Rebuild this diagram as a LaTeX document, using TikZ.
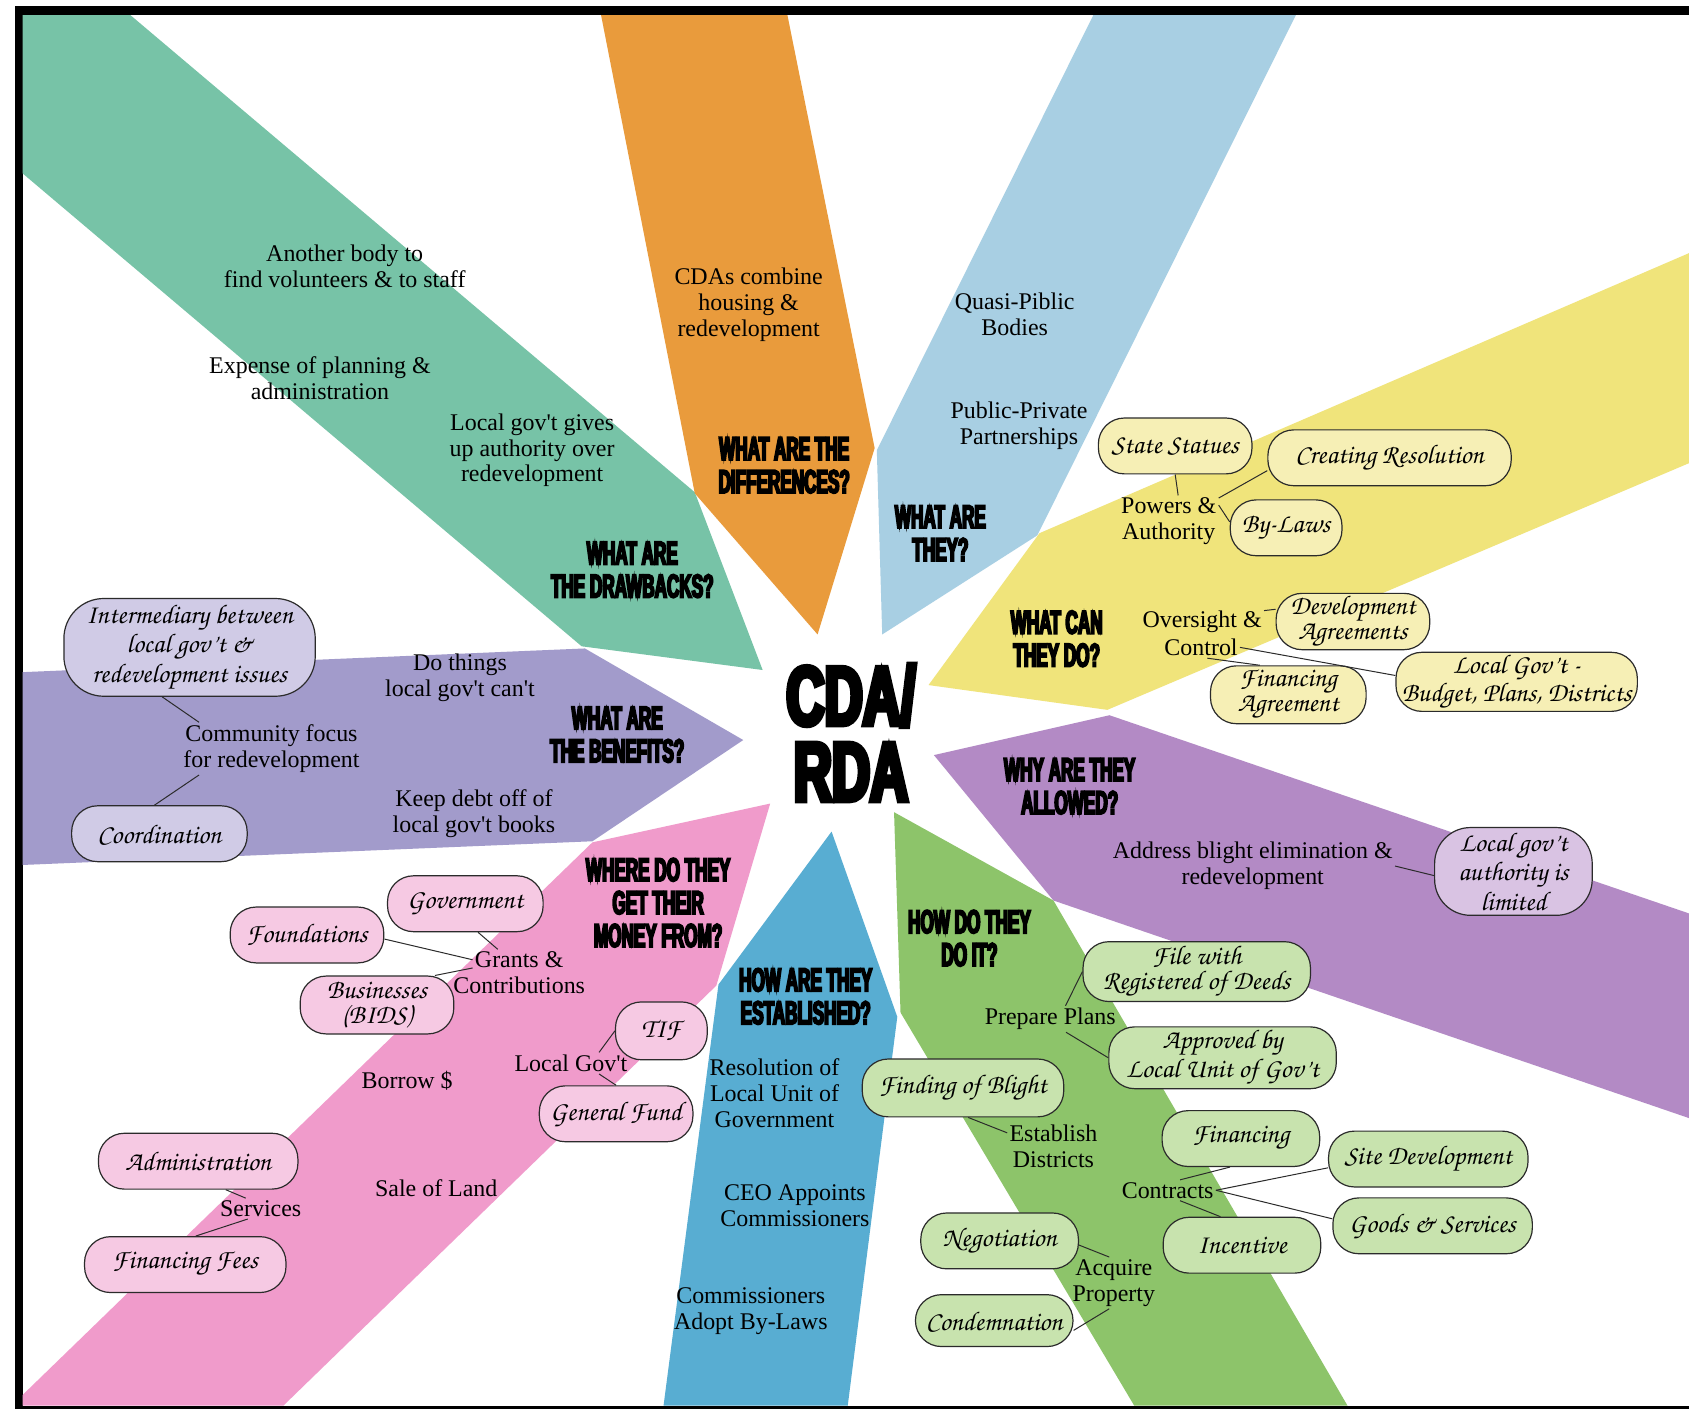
\documentclass[tikz,border=0pt]{standalone}
\usepackage[T1,TU]{fontenc}
\usepackage{fontspec}
\usepackage{xcolor}
\usepackage{tikz}
\setmainfont{Liberation Serif}
\newfontfamily\headfont[FakeStretch=0.52,FakeBold=5.5]{Liberation Sans Bold}
\newfontfamily\hubfont[FakeStretch=0.63,FakeBold=6]{Liberation Sans Bold}
\newcommand\handfont{\fontencoding{T1}\fontfamily{pzc}\fontseries{mb}\fontshape{it}\selectfont}
\newcommand\apos{\textquotesingle}
\definecolor{RDTeal}{HTML}{77C3A7}
\definecolor{RDOrange}{HTML}{E99B3C}
\definecolor{RDSky}{HTML}{A8CFE3}
\definecolor{RDYellow}{HTML}{F0E47B}
\definecolor{RDPlum}{HTML}{B38AC5}
\definecolor{RDGreen}{HTML}{8DC46A}
\definecolor{RDBlue}{HTML}{58ADD2}
\definecolor{RDPink}{HTML}{F09BCB}
\definecolor{RDLilac}{HTML}{A29BCB}
\definecolor{RDYellowLt}{HTML}{F6EFB5}
\definecolor{RDLilacLt}{HTML}{D0CBE6}
\definecolor{RDPlumLt}{HTML}{D9C3E3}
\definecolor{RDPinkLt}{HTML}{F6C9E3}
\definecolor{RDGreenLt}{HTML}{C8E3AE}
\definecolor{RDEdge}{HTML}{2B2B2B}

\begin{document}
\begin{tikzpicture}[x=0.54pt,y=-0.54pt,
  body/.style={align=center,font=\fontsize{12}{13}\selectfont,inner sep=1pt},
  quest/.style={align=center,font=\headfont\fontsize{16.5}{16.5}\selectfont,inner sep=0pt},
  pill/.style={draw=RDEdge,line width=0.6pt,rounded corners=13pt,align=center,
    font=\handfont\fontsize{13.5}{12.5}\selectfont,minimum height=28pt,inner sep=1pt},
  link/.style={draw=RDEdge,line width=0.5pt}]
\path[use as bounding box] (0,0) rectangle (1568,1308);
\fill[black] (14,6) rectangle (1568,1308);
\fill[white] (21,14) rectangle (1568,1305);
% the nine bands round the hub
\fill[RDTeal] (21,14) -- (121,14) -- (645,457) -- (708,622) -- (540,600) -- (21,161) -- cycle;
\fill[RDOrange] (558,14) -- (731,14) -- (812,416) -- (759,589) -- (645,458) -- cycle;
\fill[RDSky] (1015,14) -- (1203,14) -- (963,497) -- (819,589) -- (814,418) -- cycle;
\fill[RDYellow] (965,495) -- (1568,235) -- (1568,430) -- (1028,659) -- (862,636) -- cycle;
\fill[RDPlum] (867,701) -- (1030,664) -- (1568,848) -- (1568,1038) -- (978,836) -- cycle;
\fill[RDGreen] (830,754) -- (978,836) -- (1251,1305) -- (1053,1305) -- (836,940) -- cycle;
\fill[RDBlue] (772,772) -- (833,944) -- (787,1305) -- (616,1305) -- (667,914) -- cycle;
\fill[RDPink] (550,782) -- (715,746) -- (665,915) -- (263,1305) -- (21,1305) -- (21,1295) -- cycle;
\fill[RDLilac] (21,624) -- (543,602) -- (690,687) -- (550,781) -- (21,803) -- cycle;
% hub
\node[align=center,font=\hubfont\fontsize{42}{38}\selectfont,inner sep=0pt] (hub) at (790,680) {CDA/\\RDA};
% questions
\node[quest] (qdiff) at (728,432) {WHAT ARE THE\\DIFFERENCES?};
\node[quest] (qthey) at (873,495) {WHAT ARE\\THEY?};
\node[quest] (qdraw) at (587,529) {WHAT ARE\\THE DRAWBACKS?};
\node[quest] (qdo) at (981,593) {WHAT CAN\\THEY DO?};
\node[quest] (qben) at (573,682) {WHAT ARE\\THE BENEFITS?};
\node[quest] (qwhy) at (993,730) {WHY ARE THEY\\ALLOWED?};
\node[quest] (qmoney) at (611,838) {WHERE DO THEY\\GET THEIR\\MONEY FROM?};
\node[quest] (qhow) at (900,871) {HOW DO THEY\\DO IT?};
\node[quest] (qest) at (748,925) {HOW ARE THEY\\ESTABLISHED?};
% drawbacks
\node[body] (staff) at (320,247) {Another body to\\find volunteers \& to staff};
\node[body] (exp) at (297,351) {Expense of planning \&\\administration};
\node[body] (auth) at (494,418) {Local gov\apos t gives\\up authority over\\redevelopment};
% differences, what are they
\node[body] (comb) at (695,283) {CDAs combine\\housing \&\\redevelopment};
\node[body] (quasi) at (942,292) {Quasi-Piblic\\Bodies};
\node[body] (ppp) at (946,395) {Public-Private\\Partnerships};
% what can they do
\node[body] (pow) at (1085,484) {Powers \&\\Authority};
\node[body] (ov) at (1116,577) {Oversight \&};
\node[body] (ctl) at (1115,601) {Control};
\node[pill,fill=RDYellowLt,minimum width=77pt] (ss) at (1091,414) {State Statues};
\node[pill,fill=RDYellowLt,minimum width=122pt] (cr) at (1290,425) {Creating Resolution};
\node[pill,fill=RDYellowLt,minimum width=56pt] (bl) at (1194,490) {By-Laws};
\node[pill,fill=RDYellowLt,minimum width=77pt] (da) at (1256,577) {Development\\Agreements};
\node[pill,fill=RDYellowLt,minimum width=78pt,minimum height=29pt] (fa) at (1196,645) {Financing\\Agreement};
\node[pill,fill=RDYellowLt,minimum width=121pt] (lg) at (1408,633) {Local Gov't -\\Budget, Plans, Districts};
% benefits
\node[body] (dothings) at (427,629) {Do things\\local gov\apos t can\apos t};
\node[body] (cf) at (252,695) {Community focus\\for redevelopment};
\node[body] (debt) at (440,755) {Keep debt off of\\local gov\apos t books};
\node[pill,fill=RDLilacLt,minimum width=126pt,minimum height=49pt,rounded corners=20pt] (im) at (176,601) {Intermediary between\\local gov't \&\\redevelopment issues};
\node[pill,fill=RDLilacLt,minimum width=88pt] (co) at (148,774) {Coordination};
% why allowed
\node[body] (ab) at (1163,804) {Address blight elimination \&\\redevelopment};
\node[pill,fill=RDPlumLt,minimum width=79pt,minimum height=44pt,rounded corners=18pt] (la) at (1405,809) {Local gov't\\authority is\\limited};
% money
\node[body] (gr) at (482,891) {Grants \&};
\node[body] (cn) at (482,915) {Contributions};
\node[body] (lgv) at (530,987) {Local Gov\apos t};
\node[body] (bw) at (378,1003) {Borrow \$};
\node[body] (sl) at (405,1103) {Sale of Land};
\node[body] (sv) at (242,1122) {Services};
\node[pill,fill=RDPinkLt,minimum width=78pt] (gv) at (432,839) {Government};
\node[pill,fill=RDPinkLt,minimum width=77pt] (fd) at (285,868) {Foundations};
\node[pill,fill=RDPinkLt,minimum width=77pt,minimum height=29pt] (bu) at (350,933) {Businesses\\(BIDS)};
\node[pill,fill=RDPinkLt,minimum width=46pt,minimum height=29pt] (tif) at (614,957) {TIF};
\node[pill,fill=RDPinkLt,minimum width=77pt] (gf) at (572,1034) {General Fund};
\node[pill,fill=RDPinkLt,minimum width=100pt] (ad) at (184,1078) {Administration};
\node[pill,fill=RDPinkLt,minimum width=101pt] (ff) at (172,1174) {Financing Fees};
% established
\node[body] (res) at (719,1015) {Resolution of\\Local Unit of\\Government};
\node[body] (ceo) at (738,1119) {CEO Appoints\\Commissioners};
\node[body] (bylaw) at (697,1217) {Commissioners\\Adopt By-Laws};
% how do they do it
\node[body] (pp) at (975,946) {Prepare Plans};
\node[body] (ed) at (978,1064) {Establish\\Districts};
\node[body] (ct) at (1084,1105) {Contracts};
\node[body] (aq) at (1034,1191) {Acquire\\Property};
\node[pill,fill=RDGreenLt,minimum width=114pt,minimum height=30pt] (fw) at (1111,902) {File with\\Registered of Deeds};
\node[pill,fill=RDGreenLt,minimum width=114pt,minimum height=31pt] (ap) at (1135,982) {Approved by\\Local Unit of Gov't};
\node[pill,fill=RDGreenLt,minimum width=101pt,minimum height=29pt] (fb) at (894,1010) {Finding of Blight};
\node[pill,fill=RDGreenLt,minimum width=79pt] (fi) at (1152,1057) {Financing};
\node[pill,fill=RDGreenLt,minimum width=100pt] (sd) at (1326,1076) {Site Development};
\node[pill,fill=RDGreenLt,minimum width=100pt] (gs) at (1330,1138) {Goods \& Services};
\node[pill,fill=RDGreenLt,minimum width=79pt] (inc) at (1153,1156) {Incentive};
\node[pill,fill=RDGreenLt,minimum width=79pt] (ng) at (928,1152) {Negotiation};
\node[pill,fill=RDGreenLt,minimum width=79pt,minimum height=26pt] (cd) at (923,1226) {Condemnation};
% links
\draw[link] (ss.south) -- (pow.70);
\draw[link] (cr.186) -- (pow.25);
\draw[link] (pow.18) -- (bl.174);
\draw[link] (ov.10) -- (da.171);
\draw[link] (ctl.east) -- (lg.177);
\draw[link] (ctl.-60) -- (fa.134);
\draw[link] (im.241) -- (cf.160);
\draw[link] (cf.200) -- (co.100);
\draw[link] (ab.east) -- (la.183);
\draw[link] (gv.-66) -- (gr.154);
\draw[link] (fd.-3) -- (gr.west);
\draw[link] (bu.27) -- (gr.190);
\draw[link] (tif.west) -- (lgv.21);
\draw[link] (lgv.-21) -- (gf.north);
\draw[link] (ad.-46) -- (sv.145);
\draw[link] (sv.219) -- (ff.70);
\draw[link] (pp.41) -- (fw.west);
\draw[link] (pp.-40) -- (ap.west);
\draw[link] (fb.-80) -- (ed.164);
\draw[link] (fi.-111) -- (ct.40);
\draw[link] (ct.east) -- (sd.185);
\draw[link] (ct.east) -- (gs.176);
\draw[link] (ct.-40) -- (inc.127);
\draw[link] (ng.-3) -- (aq.100);
\draw[link] (aq.-100) -- (cd.-7);
\end{tikzpicture}
\end{document}
